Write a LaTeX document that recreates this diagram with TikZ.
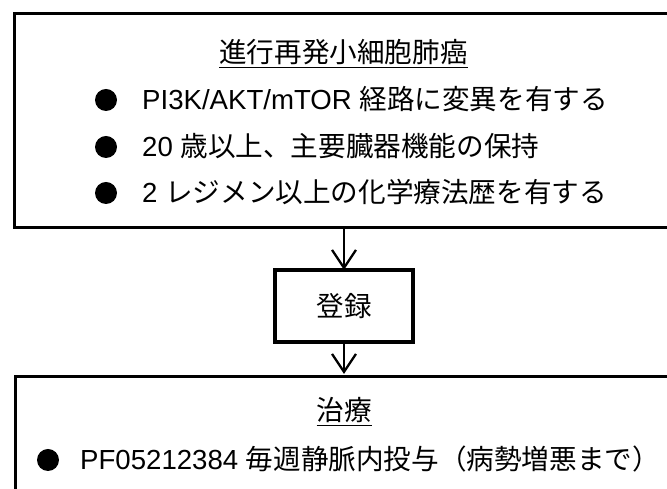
\documentclass[tikz,border=0pt]{standalone}
\usepackage{fontspec}
\setmainfont{Liberation Sans}
\newfontfamily\jpf{Noto Sans CJK JP}
\usetikzlibrary{arrows.meta,calc}
\begin{document}
\begin{tikzpicture}[x=1pt,y=1pt,
  box/.style={draw, line width=3pt, inner sep=0pt, outer sep=0pt},
  regbox/.style={draw, line width=3.8pt, inner sep=0pt, outer sep=0pt,
    minimum width=138pt, minimum height=72pt,
    font=\jpf\fontsize{27.5pt}{32pt}\selectfont},
  dot/.style={circle, fill, inner sep=0pt, minimum size=22pt},
  txt/.style={anchor=base west, inner sep=0pt, font=\fontsize{27.6pt}{32pt}\selectfont},
  ttl/.style={inner sep=0pt, font=\jpf\fontsize{27.6pt}{32pt}\selectfont},
  arr/.style={line width=2.3pt, -{Straight Barb[length=18pt, width=24pt, line width=2.3pt]}},
  uline/.style={line width=1.3pt}]
\useasboundingbox (0,0) rectangle (667,489);
\clip (0,0) rectangle (667,489);
% boxes
\node[box, minimum width=675.5pt, minimum height=214pt] (top) at (352.25,368) {};
\node[box, minimum width=675pt, minimum height=140pt] (bot) at (352.5,42) {};
\node[regbox] (reg) at (344,183) {登録};
% top box content
\node[ttl] (t1) at (343.5,437) {進行再発小細胞肺癌};
\draw[uline] ([yshift=-2.5pt]t1.south west) -- ([yshift=-2.5pt]t1.south east);
\node[dot] (d1) at (106,389) {};
\node[dot] (d2) at (106,342) {};
\node[dot] (d3) at (106,296) {};
\node[txt] (l1) at (142,379.3) {PI3K/AKT/mTOR {\jpf 経路に変異を有する}};
\node[txt] (l2) at (142,332.3) {20 {\jpf 歳以上、主要臓器機能の保持}};
\node[txt] (l3) at (142,286.3) {2 {\jpf レジメン以上の化学療法歴を有する}};
% bottom box content
\node[ttl] (t2) at (344.5,79) {治療};
\draw[uline] ([yshift=-2.5pt]t2.south west) -- ([yshift=-2.5pt]t2.south east);
\node[dot] (d4) at (48,29) {};
\node[txt] (l4) at (80,19.3) {PF05212384 {\jpf 毎週静脈内投与（病勢増悪まで）}};
% arrows
\draw[arr] (reg.north |- top.south) -- (reg.north);
\draw[arr] (reg.south) -- ([yshift=3pt]reg.south |- bot.north);
\end{tikzpicture}
\end{document}
